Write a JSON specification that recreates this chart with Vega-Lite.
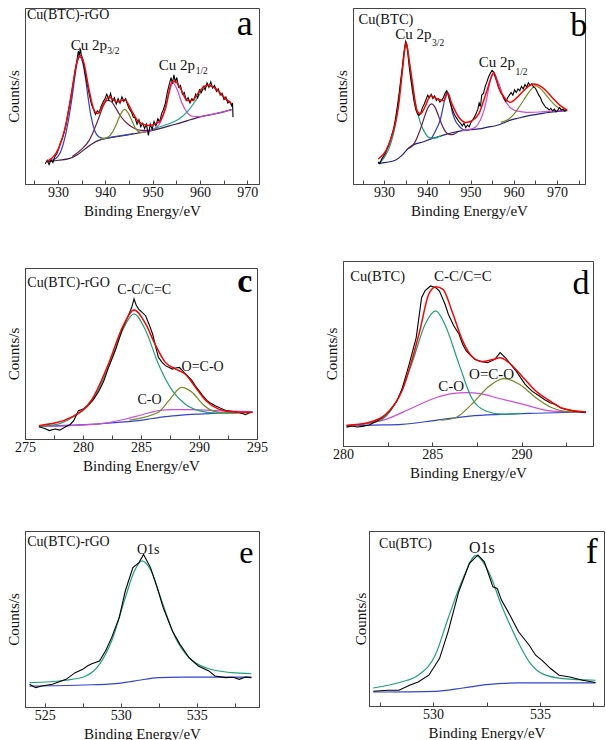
{
"$schema": "https://vega.github.io/schema/vega-lite/v6.json",
"padding": {"left": 5, "top": 5, "right": 0, "bottom": 0},
"background": "white",
"config": {
 "font": "Liberation Serif",
 "view": {"stroke": "#444", "strokeWidth": 1},
 "axis": {"grid": false, "labelFont": "Liberation Serif", "titleFont": "Liberation Serif", "labelFontSize": 14, "titleFontSize": 15, "titleFontWeight": "normal", "labelColor": "#111", "titleColor": "#111", "domainColor": "#444", "tickColor": "#444"},
 "axisX": {"tickSize": -4, "labelPadding": 5, "titlePadding": 4, "labelFlush": false, "labelOverlap": false},
 "axisY": {"labels": false, "ticks": false, "domain": true, "titlePadding": 4},
 "legend": {"disable": true}
},
"datasets": {
"a": [
{"s":"bg","x":927.7,"y":12.5},{"s":"bg","x":930,"y":13.5},{"s":"bg","x":932.3,"y":14.4},{"s":"bg","x":934,"y":16.5},{"s":"bg","x":935.8,"y":20.1},{"s":"bg","x":937.5,"y":23.3},{"s":"bg","x":938.6,"y":24.8},{"s":"bg","x":940,"y":25.8},{"s":"bg","x":942.8,"y":27.0},{"s":"bg","x":945,"y":28.0},{"s":"bg","x":947.1,"y":29.0},{"s":"bg","x":949.2,"y":30.0},{"s":"bg","x":951.3,"y":31.3},{"s":"bg","x":953.5,"y":33.0},{"s":"bg","x":956.2,"y":35.0},{"s":"bg","x":958,"y":36.5},{"s":"bg","x":959.8,"y":38.0},{"s":"bg","x":961.5,"y":39.0},{"s":"bg","x":963.3,"y":39.9},{"s":"bg","x":965,"y":41.0},{"s":"bg","x":966.7,"y":42.3},
{"s":"p1","x":927.7,"y":12.8},{"s":"p1","x":929.5,"y":14.5},{"s":"p1","x":930.5,"y":18},{"s":"p1","x":931.5,"y":27},{"s":"p1","x":932.3,"y":38},{"s":"p1","x":933,"y":50},{"s":"p1","x":933.6,"y":62},{"s":"p1","x":934.1,"y":70},{"s":"p1","x":934.6,"y":72.2},{"s":"p1","x":935.1,"y":70},{"s":"p1","x":935.7,"y":62},{"s":"p1","x":936.3,"y":50},{"s":"p1","x":937,"y":38},{"s":"p1","x":937.8,"y":30},{"s":"p1","x":938.6,"y":26.8},{"s":"p1","x":939.5,"y":25.9},{"s":"p1","x":940.5,"y":26.2},{"s":"p1","x":942,"y":27.0},{"s":"p1","x":944,"y":27.8},{"s":"p1","x":946,"y":28.6},
{"s":"s1","x":933,"y":15.6},{"s":"s1","x":935,"y":19.8},{"s":"s1","x":936.5,"y":24.5},{"s":"s1","x":937.5,"y":30},{"s":"s1","x":938.6,"y":37.5},{"s":"s1","x":939.5,"y":44},{"s":"s1","x":940.4,"y":47.5},{"s":"s1","x":941.2,"y":47},{"s":"s1","x":942,"y":44},{"s":"s1","x":943,"y":39.5},{"s":"s1","x":944,"y":36},{"s":"s1","x":945,"y":33.5},{"s":"s1","x":946,"y":31.8},{"s":"s1","x":947.5,"y":30.5},{"s":"s1","x":949,"y":30.5},{"s":"s1","x":951,"y":31.5},
{"s":"s2","x":939,"y":25.5},{"s":"s2","x":940.5,"y":26.5},{"s":"s2","x":941.5,"y":29.5},{"s":"s2","x":942.5,"y":35},{"s":"s2","x":943.3,"y":40},{"s":"s2","x":944.1,"y":42.4},{"s":"s2","x":944.9,"y":40},{"s":"s2","x":945.7,"y":35.5},{"s":"s2","x":946.5,"y":31},{"s":"s2","x":947.5,"y":29.3},{"s":"s2","x":948.5,"y":29.4},
{"s":"p2","x":948,"y":29.6},{"s":"p2","x":950,"y":30.8},{"s":"p2","x":951.3,"y":33.5},{"s":"p2","x":952.4,"y":40.5},{"s":"p2","x":953.4,"y":51},{"s":"p2","x":954.3,"y":57.4},{"s":"p2","x":955.2,"y":53.5},{"s":"p2","x":956.2,"y":46},{"s":"p2","x":957.2,"y":41},{"s":"p2","x":958.4,"y":38.5},{"s":"p2","x":960,"y":38.3},{"s":"p2","x":962,"y":39.3},{"s":"p2","x":964,"y":40.4},{"s":"p2","x":966.7,"y":42.2},
{"s":"s3","x":950,"y":31.2},{"s":"s3","x":952.7,"y":33.5},{"s":"s3","x":955.5,"y":36.8},{"s":"s3","x":957.5,"y":41.5},{"s":"s3","x":959,"y":47},{"s":"s3","x":960.5,"y":53},{"s":"s3","x":961.9,"y":56.1},{"s":"s3","x":963.3,"y":54.5},{"s":"s3","x":964.5,"y":51},{"s":"s3","x":965.5,"y":48},{"s":"s3","x":966.7,"y":45.7},
{"s":"fit","x":927.7,"y":12.9},{"s":"fit","x":930.1,"y":20.1},{"s":"fit","x":931.9,"y":37.1},{"s":"fit","x":933.0,"y":54.2},{"s":"fit","x":934.0,"y":69.3},{"s":"fit","x":934.6,"y":73.1},{"s":"fit","x":935.4,"y":69.3},{"s":"fit","x":936.5,"y":54.2},{"s":"fit","x":937.5,"y":42.8},{"s":"fit","x":938.3,"y":40},{"s":"fit","x":939.3,"y":43.8},{"s":"fit","x":940.7,"y":49.4},{"s":"fit","x":942.5,"y":46.6},{"s":"fit","x":944.1,"y":47.9},{"s":"fit","x":945.7,"y":40.9},{"s":"fit","x":947.1,"y":35.2},{"s":"fit","x":949.2,"y":33.3},{"s":"fit","x":951.3,"y":35.2},{"s":"fit","x":952.7,"y":42.8},{"s":"fit","x":954.1,"y":58},{"s":"fit","x":954.8,"y":58.3},{"s":"fit","x":955.9,"y":54.2},{"s":"fit","x":957.3,"y":47.5},{"s":"fit","x":958.4,"y":47.5},{"s":"fit","x":959.8,"y":52.3},{"s":"fit","x":961.5,"y":56.1},{"s":"fit","x":963.3,"y":54.2},{"s":"fit","x":965.4,"y":48.5},{"s":"fit","x":966.7,"y":45.6},
{"s":"raw","x":927.3,"y":11.5},{"s":"raw","x":927.7,"y":13.5},{"s":"raw","x":928.1,"y":11.0},{"s":"raw","x":928.5,"y":13.8},{"s":"raw","x":928.9,"y":12.2},{"s":"raw","x":929.3,"y":15.5},{"s":"raw","x":929.7,"y":17.0},{"s":"raw","x":930.1,"y":19.8},{"s":"raw","x":930.5,"y":23.5},{"s":"raw","x":930.9,"y":26.0},{"s":"raw","x":931.3,"y":29.5},{"s":"raw","x":931.7,"y":34.0},{"s":"raw","x":932.1,"y":40.5},{"s":"raw","x":932.5,"y":46.0},{"s":"raw","x":932.9,"y":52.5},{"s":"raw","x":933.3,"y":59.5},{"s":"raw","x":933.7,"y":66.0},{"s":"raw","x":934.0,"y":70.5},{"s":"raw","x":934.3,"y":75.5},{"s":"raw","x":934.5,"y":72.5},{"s":"raw","x":934.7,"y":77.0},{"s":"raw","x":934.9,"y":73.5},{"s":"raw","x":935.2,"y":71.0},{"s":"raw","x":935.5,"y":66.5},{"s":"raw","x":935.9,"y":60.0},{"s":"raw","x":936.3,"y":55.0},{"s":"raw","x":936.7,"y":49.5},{"s":"raw","x":937.1,"y":45.0},{"s":"raw","x":937.5,"y":42.5},{"s":"raw","x":937.9,"y":39.5},{"s":"raw","x":938.3,"y":41.5},{"s":"raw","x":938.7,"y":40.5},{"s":"raw","x":939.1,"y":44.0},{"s":"raw","x":939.5,"y":46.5},{"s":"raw","x":939.9,"y":48.5},{"s":"raw","x":940.3,"y":51.0},{"s":"raw","x":940.7,"y":48.0},{"s":"raw","x":941.1,"y":51.5},{"s":"raw","x":941.5,"y":47.0},{"s":"raw","x":941.9,"y":49.0},{"s":"raw","x":942.3,"y":45.5},{"s":"raw","x":942.7,"y":48.5},{"s":"raw","x":943.1,"y":46.0},{"s":"raw","x":943.5,"y":49.5},{"s":"raw","x":943.9,"y":47.0},{"s":"raw","x":944.3,"y":48.5},{"s":"raw","x":944.7,"y":45.0},{"s":"raw","x":945.1,"y":42.5},{"s":"raw","x":945.5,"y":41.0},{"s":"raw","x":945.9,"y":38.0},{"s":"raw","x":946.3,"y":37.5},{"s":"raw","x":946.7,"y":34.0},{"s":"raw","x":947.1,"y":36.5},{"s":"raw","x":947.5,"y":32.5},{"s":"raw","x":947.9,"y":34.5},{"s":"raw","x":948.3,"y":31.5},{"s":"raw","x":948.7,"y":34.0},{"s":"raw","x":949.1,"y":27.6},{"s":"raw","x":949.5,"y":34.0},{"s":"raw","x":949.9,"y":31.0},{"s":"raw","x":950.3,"y":35.5},{"s":"raw","x":950.7,"y":33.0},{"s":"raw","x":951.1,"y":37.0},{"s":"raw","x":951.5,"y":35.5},{"s":"raw","x":951.9,"y":40.0},{"s":"raw","x":952.3,"y":42.5},{"s":"raw","x":952.7,"y":46.0},{"s":"raw","x":953.1,"y":52.0},{"s":"raw","x":953.5,"y":56.5},{"s":"raw","x":953.9,"y":60.5},{"s":"raw","x":954.2,"y":57.0},{"s":"raw","x":954.5,"y":62.0},{"s":"raw","x":954.8,"y":58.0},{"s":"raw","x":955.1,"y":60.5},{"s":"raw","x":955.5,"y":55.0},{"s":"raw","x":955.9,"y":56.0},{"s":"raw","x":956.3,"y":51.0},{"s":"raw","x":956.7,"y":52.0},{"s":"raw","x":957.1,"y":47.5},{"s":"raw","x":957.5,"y":49.0},{"s":"raw","x":957.9,"y":46.0},{"s":"raw","x":958.3,"y":48.5},{"s":"raw","x":958.7,"y":47.5},{"s":"raw","x":959.1,"y":51.0},{"s":"raw","x":959.5,"y":49.0},{"s":"raw","x":959.9,"y":53.5},{"s":"raw","x":960.3,"y":52.0},{"s":"raw","x":960.7,"y":55.5},{"s":"raw","x":961.1,"y":53.5},{"s":"raw","x":961.5,"y":57.5},{"s":"raw","x":961.9,"y":55.0},{"s":"raw","x":962.3,"y":58.0},{"s":"raw","x":962.7,"y":54.5},{"s":"raw","x":963.1,"y":56.0},{"s":"raw","x":963.5,"y":52.5},{"s":"raw","x":963.9,"y":54.0},{"s":"raw","x":964.3,"y":50.5},{"s":"raw","x":964.7,"y":51.5},{"s":"raw","x":965.1,"y":48.0},{"s":"raw","x":965.5,"y":49.5},{"s":"raw","x":965.9,"y":46.0},{"s":"raw","x":966.3,"y":47.0},{"s":"raw","x":966.7,"y":44.5},{"s":"raw","x":966.9,"y":46.0},{"s":"raw","x":967.0,"y":38.0}
],
"b": [
{"s":"bg","x":928.6,"y":11.7},{"s":"bg","x":930.5,"y":12.3},{"s":"bg","x":932.6,"y":13.5},{"s":"bg","x":934,"y":16},{"s":"bg","x":935.7,"y":20.5},{"s":"bg","x":937.3,"y":22.8},{"s":"bg","x":938.8,"y":23.7},{"s":"bg","x":941,"y":25.8},{"s":"bg","x":943.4,"y":27.5},{"s":"bg","x":945.7,"y":29.1},{"s":"bg","x":948.1,"y":30.3},{"s":"bg","x":950,"y":30.9},{"s":"bg","x":951.9,"y":31.3},{"s":"bg","x":954,"y":32.3},{"s":"bg","x":955.8,"y":33.1},{"s":"bg","x":957.5,"y":34.5},{"s":"bg","x":958.9,"y":36},{"s":"bg","x":961.2,"y":37.5},{"s":"bg","x":963.5,"y":38.8},{"s":"bg","x":966,"y":39.8},{"s":"bg","x":968.1,"y":40.7},{"s":"bg","x":970.2,"y":41.3},{"s":"bg","x":972.4,"y":41.7},
{"s":"p1","x":928.6,"y":12},{"s":"p1","x":929.5,"y":13.3},{"s":"p1","x":930.5,"y":17},{"s":"p1","x":931.5,"y":22.7},{"s":"p1","x":932.3,"y":30},{"s":"p1","x":933,"y":39.8},{"s":"p1","x":933.6,"y":52},{"s":"p1","x":934.2,"y":64.4},{"s":"p1","x":934.7,"y":75},{"s":"p1","x":935.1,"y":79.9},{"s":"p1","x":935.5,"y":76},{"s":"p1","x":936.1,"y":64.4},{"s":"p1","x":936.7,"y":53},{"s":"p1","x":937.3,"y":45.5},{"s":"p1","x":938,"y":38},{"s":"p1","x":938.8,"y":32.2},{"s":"p1","x":939.6,"y":28.5},{"s":"p1","x":940.3,"y":26.5},{"s":"p1","x":941.5,"y":26},{"s":"p1","x":943,"y":27.2},
{"s":"s1","x":935.5,"y":20},{"s":"s1","x":936.5,"y":21.5},{"s":"s1","x":937.3,"y":24.5},{"s":"s1","x":938,"y":28.5},{"s":"s1","x":938.8,"y":34.1},{"s":"s1","x":939.6,"y":40},{"s":"s1","x":940.3,"y":44},{"s":"s1","x":941,"y":45.5},{"s":"s1","x":941.7,"y":44},{"s":"s1","x":942.7,"y":38},{"s":"s1","x":943.5,"y":33},{"s":"s1","x":944.2,"y":29.8},{"s":"s1","x":945,"y":28.3},{"s":"s1","x":945.7,"y":28},{"s":"s1","x":947,"y":29.5},
{"s":"s2","x":941,"y":26},{"s":"s2","x":942.3,"y":32.2},{"s":"s2","x":943,"y":36.5},{"s":"s2","x":943.6,"y":43},{"s":"s2","x":944.2,"y":50},{"s":"s2","x":944.7,"y":52.1},{"s":"s2","x":945.2,"y":49},{"s":"s2","x":945.7,"y":41.7},{"s":"s2","x":946.5,"y":36},{"s":"s2","x":947.3,"y":33.1},{"s":"s2","x":948.8,"y":30.5},{"s":"s2","x":950,"y":31},
{"s":"p2","x":948,"y":30.5},{"s":"p2","x":950,"y":31.2},{"s":"p2","x":951.1,"y":32.2},{"s":"p2","x":952.2,"y":36},{"s":"p2","x":953.1,"y":41.7},{"s":"p2","x":953.8,"y":49},{"s":"p2","x":954.5,"y":58},{"s":"p2","x":955.5,"y":62.5},{"s":"p2","x":956.2,"y":59},{"s":"p2","x":956.9,"y":54.9},{"s":"p2","x":957.6,"y":49},{"s":"p2","x":958.5,"y":45.5},{"s":"p2","x":959.4,"y":43},{"s":"p2","x":960.4,"y":41.7},{"s":"p2","x":962,"y":41},{"s":"p2","x":963.5,"y":40.7},{"s":"p2","x":966,"y":40.9},{"s":"p2","x":968.1,"y":41.3},{"s":"p2","x":972.4,"y":41.8},
{"s":"s3","x":957,"y":35},{"s":"s3","x":958.9,"y":36.9},{"s":"s3","x":960,"y":39.5},{"s":"s3","x":961.2,"y":43.6},{"s":"s3","x":962.4,"y":48},{"s":"s3","x":963.5,"y":52.1},{"s":"s3","x":964.3,"y":54.5},{"s":"s3","x":965,"y":55.9},{"s":"s3","x":965.8,"y":55},{"s":"s3","x":966.5,"y":53.5},{"s":"s3","x":967.3,"y":51.1},{"s":"s3","x":968.5,"y":47.5},{"s":"s3","x":969.7,"y":44.5},{"s":"s3","x":970.8,"y":42.8},{"s":"s3","x":972,"y":42},
{"s":"fit","x":928.6,"y":14.2},{"s":"fit","x":931.1,"y":22.7},{"s":"fit","x":933.4,"y":45.5},{"s":"fit","x":934.3,"y":66},{"s":"fit","x":935.1,"y":80.5},{"s":"fit","x":935.8,"y":70},{"s":"fit","x":936.5,"y":58.7},{"s":"fit","x":937.6,"y":41.7},{"s":"fit","x":938.4,"y":39.8},{"s":"fit","x":939.6,"y":44.5},{"s":"fit","x":940.7,"y":50.2},{"s":"fit","x":942.3,"y":48.3},{"s":"fit","x":943.8,"y":47.3},{"s":"fit","x":944.7,"y":51.5},{"s":"fit","x":945.7,"y":45.5},{"s":"fit","x":947.3,"y":37.9},{"s":"fit","x":948.8,"y":35},{"s":"fit","x":950.4,"y":36},{"s":"fit","x":951.9,"y":39.8},{"s":"fit","x":953.8,"y":53},{"s":"fit","x":955.4,"y":63.4},{"s":"fit","x":956.5,"y":54.9},{"s":"fit","x":958.1,"y":48.3},{"s":"fit","x":959.2,"y":46.4},{"s":"fit","x":960.8,"y":49.2},{"s":"fit","x":962.7,"y":54},{"s":"fit","x":964.6,"y":56.8},{"s":"fit","x":966.6,"y":54.9},{"s":"fit","x":968.9,"y":49.2},{"s":"fit","x":970.8,"y":44.5},{"s":"fit","x":972.4,"y":42},
{"s":"raw","x":928.6,"y":12.5},{"s":"raw","x":929.0,"y":11.5},{"s":"raw","x":929.4,"y":14.0},{"s":"raw","x":929.8,"y":15.5},{"s":"raw","x":930.2,"y":17.0},{"s":"raw","x":930.6,"y":19.5},{"s":"raw","x":931.0,"y":21.5},{"s":"raw","x":931.4,"y":24.5},{"s":"raw","x":931.8,"y":28.0},{"s":"raw","x":932.2,"y":31.5},{"s":"raw","x":932.6,"y":36.5},{"s":"raw","x":933.0,"y":43.0},{"s":"raw","x":933.4,"y":50.0},{"s":"raw","x":933.8,"y":58.0},{"s":"raw","x":934.2,"y":66.0},{"s":"raw","x":934.5,"y":73.0},{"s":"raw","x":934.8,"y":78.5},{"s":"raw","x":935.0,"y":81.0},{"s":"raw","x":935.2,"y":79.5},{"s":"raw","x":935.5,"y":74.0},{"s":"raw","x":935.8,"y":67.0},{"s":"raw","x":936.1,"y":61.0},{"s":"raw","x":936.5,"y":54.0},{"s":"raw","x":936.9,"y":47.5},{"s":"raw","x":937.3,"y":42.5},{"s":"raw","x":937.7,"y":40.0},{"s":"raw","x":938.1,"y":39.0},{"s":"raw","x":938.5,"y":40.5},{"s":"raw","x":938.9,"y":43.5},{"s":"raw","x":939.3,"y":45.5},{"s":"raw","x":939.7,"y":48.0},{"s":"raw","x":940.1,"y":50.5},{"s":"raw","x":940.5,"y":49.0},{"s":"raw","x":940.9,"y":51.0},{"s":"raw","x":941.3,"y":48.5},{"s":"raw","x":941.7,"y":50.0},{"s":"raw","x":942.1,"y":47.5},{"s":"raw","x":942.5,"y":48.5},{"s":"raw","x":942.9,"y":46.5},{"s":"raw","x":943.3,"y":47.5},{"s":"raw","x":943.7,"y":49.0},{"s":"raw","x":944.1,"y":51.5},{"s":"raw","x":944.5,"y":53.0},{"s":"raw","x":944.9,"y":50.0},{"s":"raw","x":945.3,"y":46.0},{"s":"raw","x":945.7,"y":43.0},{"s":"raw","x":946.1,"y":40.5},{"s":"raw","x":946.5,"y":38.5},{"s":"raw","x":946.9,"y":37.0},{"s":"raw","x":947.3,"y":35.5},{"s":"raw","x":947.7,"y":34.5},{"s":"raw","x":948.1,"y":33.0},{"s":"raw","x":948.5,"y":34.5},{"s":"raw","x":948.9,"y":32.0},{"s":"raw","x":949.3,"y":33.5},{"s":"raw","x":949.7,"y":32.5},{"s":"raw","x":950.1,"y":35.0},{"s":"raw","x":950.5,"y":36.5},{"s":"raw","x":950.9,"y":38.0},{"s":"raw","x":951.3,"y":40.0},{"s":"raw","x":951.7,"y":42.5},{"s":"raw","x":952.0,"y":46.0},{"s":"raw","x":952.3,"y":44.0},{"s":"raw","x":952.6,"y":50.5},{"s":"raw","x":953.0,"y":51.5},{"s":"raw","x":953.4,"y":55.5},{"s":"raw","x":953.8,"y":58.0},{"s":"raw","x":954.2,"y":61.0},{"s":"raw","x":954.6,"y":63.0},{"s":"raw","x":955.0,"y":64.5},{"s":"raw","x":955.4,"y":63.5},{"s":"raw","x":955.8,"y":60.0},{"s":"raw","x":956.2,"y":57.5},{"s":"raw","x":956.6,"y":54.5},{"s":"raw","x":957.0,"y":52.0},{"s":"raw","x":957.4,"y":50.5},{"s":"raw","x":957.8,"y":48.5},{"s":"raw","x":958.2,"y":47.0},{"s":"raw","x":958.6,"y":49.0},{"s":"raw","x":959.0,"y":50.5},{"s":"raw","x":959.4,"y":52.0},{"s":"raw","x":959.8,"y":50.5},{"s":"raw","x":960.2,"y":53.5},{"s":"raw","x":960.6,"y":52.0},{"s":"raw","x":961.0,"y":54.0},{"s":"raw","x":961.4,"y":53.0},{"s":"raw","x":961.8,"y":55.5},{"s":"raw","x":962.2,"y":54.0},{"s":"raw","x":962.6,"y":56.5},{"s":"raw","x":963.0,"y":55.0},{"s":"raw","x":963.4,"y":57.5},{"s":"raw","x":963.8,"y":56.0},{"s":"raw","x":964.2,"y":57.0},{"s":"raw","x":964.6,"y":55.0},{"s":"raw","x":965.0,"y":54.5},{"s":"raw","x":965.4,"y":52.5},{"s":"raw","x":965.8,"y":50.5},{"s":"raw","x":966.2,"y":49.0},{"s":"raw","x":966.6,"y":46.5},{"s":"raw","x":967.0,"y":45.0},{"s":"raw","x":967.4,"y":43.5},{"s":"raw","x":967.8,"y":43.0},{"s":"raw","x":968.2,"y":42.0},{"s":"raw","x":968.6,"y":43.0},{"s":"raw","x":969.0,"y":41.5},{"s":"raw","x":969.4,"y":42.5},{"s":"raw","x":969.8,"y":41.0},{"s":"raw","x":970.2,"y":42.0},{"s":"raw","x":970.6,"y":43.5},{"s":"raw","x":971.0,"y":42.0},{"s":"raw","x":971.4,"y":42.5},{"s":"raw","x":971.8,"y":41.5},{"s":"raw","x":972.2,"y":42.0}
],
"c": [
{"s":"bg","x":276.2,"y":7.2},{"s":"bg","x":278.5,"y":8.0},{"s":"bg","x":281.4,"y":8.8},{"s":"bg","x":283,"y":9.7},{"s":"bg","x":284.8,"y":10.7},{"s":"bg","x":286,"y":12},{"s":"bg","x":287.1,"y":13.1},{"s":"bg","x":288.5,"y":14},{"s":"bg","x":290,"y":14.6},{"s":"bg","x":292,"y":15.2},{"s":"bg","x":294.6,"y":15.6},
{"s":"co","x":276.2,"y":7.2},{"s":"co","x":281.4,"y":8.8},{"s":"co","x":283.7,"y":11.7},{"s":"co","x":285.1,"y":14.2},{"s":"co","x":286.5,"y":16.6},{"s":"co","x":287.7,"y":17.2},{"s":"co","x":289.4,"y":17.2},{"s":"co","x":291.4,"y":16.6},{"s":"co","x":294.6,"y":16.0},
{"s":"cc","x":276.2,"y":7.3},{"s":"cc","x":278,"y":9},{"s":"cc","x":279.1,"y":12.7},{"s":"cc","x":280.8,"y":22.4},{"s":"cc","x":282.2,"y":41.9},{"s":"cc","x":283.4,"y":63.4},{"s":"cc","x":284.4,"y":73.1},{"s":"cc","x":285.4,"y":63.4},{"s":"cc","x":286.5,"y":43.9},{"s":"cc","x":287.7,"y":28.3},{"s":"cc","x":288.8,"y":20.5},{"s":"cc","x":290,"y":16.6},{"s":"cc","x":291.4,"y":15.2},{"s":"cc","x":294.6,"y":15.6},
{"s":"oco","x":284,"y":11},{"s":"oco","x":286.5,"y":15.6},{"s":"oco","x":287.4,"y":22.4},{"s":"oco","x":288.5,"y":30.2},{"s":"oco","x":289.4,"y":27.3},{"s":"oco","x":290.3,"y":20.5},{"s":"oco","x":291.1,"y":16.6},{"s":"oco","x":292.3,"y":15.2},{"s":"oco","x":294,"y":15.5},
{"s":"fit","x":276.2,"y":7.8},{"s":"fit","x":279.1,"y":13.1},{"s":"fit","x":280.8,"y":23.4},{"s":"fit","x":282.2,"y":43.9},{"s":"fit","x":283.4,"y":65.3},{"s":"fit","x":284.4,"y":75.4},{"s":"fit","x":285.4,"y":67.3},{"s":"fit","x":286.2,"y":55.6},{"s":"fit","x":287.1,"y":44.8},{"s":"fit","x":288,"y":40.9},{"s":"fit","x":288.8,"y":38},{"s":"fit","x":289.7,"y":30.2},{"s":"fit","x":290.6,"y":22.4},{"s":"fit","x":291.7,"y":17.5},{"s":"fit","x":292.8,"y":16},{"s":"fit","x":294.6,"y":15.6},
{"s":"raw","x":276.2,"y":7.2},{"s":"raw","x":276.7,"y":6.2},{"s":"raw","x":277.1,"y":4.9},{"s":"raw","x":277.6,"y":5.8},{"s":"raw","x":278,"y":5.2},{"s":"raw","x":278.5,"y":7.2},{"s":"raw","x":278.9,"y":8.5},{"s":"raw","x":279.2,"y":10.7},{"s":"raw","x":279.6,"y":16.6},{"s":"raw","x":280,"y":17.5},{"s":"raw","x":280.4,"y":19.5},{"s":"raw","x":280.9,"y":23},{"s":"raw","x":281.4,"y":28.3},{"s":"raw","x":281.8,"y":34},{"s":"raw","x":282.2,"y":41.9},{"s":"raw","x":282.8,"y":52},{"s":"raw","x":283.4,"y":64.5},{"s":"raw","x":283.9,"y":72},{"s":"raw","x":284.2,"y":77},{"s":"raw","x":284.4,"y":81.9},{"s":"raw","x":284.6,"y":78},{"s":"raw","x":284.8,"y":76},{"s":"raw","x":285.1,"y":74},{"s":"raw","x":285.4,"y":72.1},{"s":"raw","x":285.7,"y":67},{"s":"raw","x":286,"y":61.4},{"s":"raw","x":286.3,"y":53},{"s":"raw","x":286.5,"y":47.8},{"s":"raw","x":286.8,"y":45},{"s":"raw","x":287.1,"y":42.9},{"s":"raw","x":287.4,"y":42},{"s":"raw","x":287.7,"y":40.9},{"s":"raw","x":288,"y":41.5},{"s":"raw","x":288.3,"y":41.9},{"s":"raw","x":288.5,"y":40.5},{"s":"raw","x":288.7,"y":39},{"s":"raw","x":289,"y":37},{"s":"raw","x":289.4,"y":34.1},{"s":"raw","x":289.7,"y":31},{"s":"raw","x":290,"y":28.3},{"s":"raw","x":290.3,"y":25.5},{"s":"raw","x":290.7,"y":22.4},{"s":"raw","x":291,"y":21},{"s":"raw","x":291.4,"y":19.5},{"s":"raw","x":291.8,"y":18.2},{"s":"raw","x":292.3,"y":16.6},{"s":"raw","x":292.8,"y":16.2},{"s":"raw","x":293.4,"y":15.6},{"s":"raw","x":293.7,"y":15},{"s":"raw","x":294,"y":14.2},{"s":"raw","x":294.3,"y":15.2},{"s":"raw","x":294.6,"y":15.6}
],
"d": [
{"s":"bg","x":280.2,"y":10.8},{"s":"bg","x":281.7,"y":11.3},{"s":"bg","x":283.3,"y":11.7},{"s":"bg","x":285.2,"y":13.9},{"s":"bg","x":287.1,"y":16.2},{"s":"bg","x":288.9,"y":17.1},{"s":"bg","x":290.8,"y":17.7},{"s":"bg","x":293.6,"y":18.4},
{"s":"co","x":280.2,"y":10.8},{"s":"co","x":282.4,"y":14.4},{"s":"co","x":283.9,"y":20.7},{"s":"co","x":285.2,"y":26.1},{"s":"co","x":286.1,"y":28.3},{"s":"co","x":286.9,"y":28.8},{"s":"co","x":287.8,"y":28},{"s":"co","x":288.6,"y":26.1},{"s":"co","x":290.1,"y":22.5},{"s":"co","x":291.7,"y":18.9},{"s":"co","x":293.6,"y":18.4},
{"s":"cc","x":280.2,"y":10.9},{"s":"cc","x":282,"y":13.5},{"s":"cc","x":282.9,"y":22.5},{"s":"cc","x":283.9,"y":45.9},{"s":"cc","x":284.6,"y":65.8},{"s":"cc","x":285.2,"y":73},{"s":"cc","x":285.7,"y":65.8},{"s":"cc","x":286.5,"y":44.1},{"s":"cc","x":287.2,"y":26.1},{"s":"cc","x":288,"y":18.9},{"s":"cc","x":288.9,"y":17.2},{"s":"cc","x":290,"y":17.6},
{"s":"oco","x":285.5,"y":14},{"s":"oco","x":286.3,"y":15.3},{"s":"oco","x":287.2,"y":22.5},{"s":"oco","x":288.2,"y":32.4},{"s":"oco","x":289,"y":36.4},{"s":"oco","x":289.9,"y":33.3},{"s":"oco","x":290.8,"y":26.1},{"s":"oco","x":291.7,"y":20.7},{"s":"oco","x":292.7,"y":18.6},{"s":"oco","x":293.6,"y":18.4},
{"s":"fit","x":280.2,"y":11.2},{"s":"fit","x":281.4,"y":12.6},{"s":"fit","x":282.4,"y":17.1},{"s":"fit","x":283.3,"y":29.7},{"s":"fit","x":284.3,"y":62.2},{"s":"fit","x":284.8,"y":82},{"s":"fit","x":285.2,"y":86.1},{"s":"fit","x":285.6,"y":84.7},{"s":"fit","x":286.1,"y":73},{"s":"fit","x":286.7,"y":56.8},{"s":"fit","x":287.2,"y":48.6},{"s":"fit","x":287.8,"y":45.6},{"s":"fit","x":288.4,"y":46.8},{"s":"fit","x":288.8,"y":47.7},{"s":"fit","x":289.3,"y":45},{"s":"fit","x":290.1,"y":36.9},{"s":"fit","x":290.8,"y":29.7},{"s":"fit","x":291.6,"y":24.3},{"s":"fit","x":292.3,"y":20.4},{"s":"fit","x":293.6,"y":18.4},
{"s":"raw","x":280.2,"y":10.2},{"s":"raw","x":280.5,"y":10.8},{"s":"raw","x":280.8,"y":10.3},{"s":"raw","x":281.1,"y":10.6},{"s":"raw","x":281.5,"y":11.5},{"s":"raw","x":281.9,"y":13.5},{"s":"raw","x":282.2,"y":15.3},{"s":"raw","x":282.6,"y":18.9},{"s":"raw","x":283,"y":24},{"s":"raw","x":283.3,"y":30.6},{"s":"raw","x":283.7,"y":44},{"s":"raw","x":284.1,"y":58.6},{"s":"raw","x":284.4,"y":80.2},{"s":"raw","x":284.6,"y":84},{"s":"raw","x":284.9,"y":86.5},{"s":"raw","x":285.2,"y":85.5},{"s":"raw","x":285.4,"y":83.8},{"s":"raw","x":285.7,"y":77},{"s":"raw","x":285.9,"y":71.2},{"s":"raw","x":286.2,"y":65},{"s":"raw","x":286.5,"y":60.4},{"s":"raw","x":286.7,"y":55},{"s":"raw","x":286.9,"y":51.4},{"s":"raw","x":287.2,"y":48.5},{"s":"raw","x":287.4,"y":46.8},{"s":"raw","x":287.8,"y":45.5},{"s":"raw","x":288.1,"y":45},{"s":"raw","x":288.5,"y":46.8},{"s":"raw","x":288.8,"y":50.5},{"s":"raw","x":289.1,"y":47.7},{"s":"raw","x":289.4,"y":44},{"s":"raw","x":289.7,"y":40.5},{"s":"raw","x":290.2,"y":33.3},{"s":"raw","x":290.6,"y":29.5},{"s":"raw","x":291,"y":27},{"s":"raw","x":291.3,"y":25},{"s":"raw","x":291.6,"y":23.4},{"s":"raw","x":291.9,"y":22.5},{"s":"raw","x":292.2,"y":20.5},{"s":"raw","x":292.5,"y":19.8},{"s":"raw","x":293,"y":18.8},{"s":"raw","x":293.6,"y":18}
],
"e": [
{"s":"bg","x":524,"y":11.9},{"s":"bg","x":527.5,"y":12.5},{"s":"bg","x":529.7,"y":13.3},{"s":"bg","x":530.5,"y":14.2},{"s":"bg","x":531.2,"y":15.2},{"s":"bg","x":532.5,"y":16.7},{"s":"bg","x":534,"y":17},{"s":"bg","x":538.6,"y":17},
{"s":"o1s","x":524,"y":13.8},{"s":"o1s","x":526.4,"y":15.2},{"s":"o1s","x":527.7,"y":17.6},{"s":"o1s","x":528.6,"y":24.2},{"s":"o1s","x":529.4,"y":37.5},{"s":"o1s","x":530.3,"y":62.1},{"s":"o1s","x":530.9,"y":77.3},{"s":"o1s","x":531.4,"y":83},{"s":"o1s","x":532,"y":77.3},{"s":"o1s","x":532.7,"y":60.2},{"s":"o1s","x":533.6,"y":39.4},{"s":"o1s","x":534.5,"y":28},{"s":"o1s","x":535.6,"y":22.3},{"s":"o1s","x":537.3,"y":19.5},{"s":"o1s","x":538.6,"y":18.9},
{"s":"raw","x":524,"y":12.9},{"s":"raw","x":524.4,"y":11},{"s":"raw","x":524.8,"y":11.9},{"s":"raw","x":525.5,"y":12.9},{"s":"raw","x":526.4,"y":15.7},{"s":"raw","x":527,"y":19.5},{"s":"raw","x":527.5,"y":21.4},{"s":"raw","x":527.8,"y":23.3},{"s":"raw","x":528.1,"y":24.6},{"s":"raw","x":528.6,"y":26.1},{"s":"raw","x":529,"y":31.8},{"s":"raw","x":529.4,"y":39.4},{"s":"raw","x":529.9,"y":50.8},{"s":"raw","x":530.3,"y":65.9},{"s":"raw","x":530.8,"y":79.2},{"s":"raw","x":531.2,"y":82},{"s":"raw","x":531.5,"y":86.7},{"s":"raw","x":531.96,"y":79.2},{"s":"raw","x":532.4,"y":67.8},{"s":"raw","x":532.8,"y":56.4},{"s":"raw","x":533.4,"y":43.2},{"s":"raw","x":533.9,"y":35.6},{"s":"raw","x":534.5,"y":28},{"s":"raw","x":535.1,"y":23.3},{"s":"raw","x":535.8,"y":20.5},{"s":"raw","x":536.2,"y":17.6},{"s":"raw","x":536.9,"y":16.7},{"s":"raw","x":537.4,"y":16.9},{"s":"raw","x":537.8,"y":15.7},{"s":"raw","x":538.2,"y":17},{"s":"raw","x":538.6,"y":16.7}
],
"f": [
{"s":"bg","x":527.2,"y":8},{"s":"bg","x":530.1,"y":8.4},{"s":"bg","x":531.4,"y":10.3},{"s":"bg","x":532.5,"y":12.2},{"s":"bg","x":534,"y":13.2},{"s":"bg","x":537.6,"y":13.2},
{"s":"o1s","x":527.2,"y":10.3},{"s":"o1s","x":528.5,"y":13.7},{"s":"o1s","x":529.3,"y":17.6},{"s":"o1s","x":530.1,"y":29},{"s":"o1s","x":530.7,"y":50},{"s":"o1s","x":531.4,"y":72.9},{"s":"o1s","x":532,"y":85.9},{"s":"o1s","x":532.6,"y":76.7},{"s":"o1s","x":533.2,"y":57.6},{"s":"o1s","x":533.9,"y":38.5},{"s":"o1s","x":534.5,"y":25.2},{"s":"o1s","x":535.1,"y":18.5},{"s":"o1s","x":536.1,"y":15.6},{"s":"o1s","x":537.6,"y":14.7},
{"s":"raw","x":527.2,"y":8.4},{"s":"raw","x":527.9,"y":9},{"s":"raw","x":528.4,"y":9},{"s":"raw","x":528.9,"y":11.8},{"s":"raw","x":529.3,"y":13.7},{"s":"raw","x":529.8,"y":17.6},{"s":"raw","x":530.3,"y":27.1},{"s":"raw","x":530.7,"y":42.4},{"s":"raw","x":531.2,"y":65.3},{"s":"raw","x":531.7,"y":81.5},{"s":"raw","x":532.1,"y":86.3},{"s":"raw","x":532.4,"y":82.4},{"s":"raw","x":532.8,"y":68.1},{"s":"raw","x":533,"y":67.2},{"s":"raw","x":533.2,"y":60.5},{"s":"raw","x":533.6,"y":51.9},{"s":"raw","x":534,"y":42.4},{"s":"raw","x":534.5,"y":34.7},{"s":"raw","x":534.8,"y":29},{"s":"raw","x":535.1,"y":26.1},{"s":"raw","x":535.5,"y":21.4},{"s":"raw","x":535.9,"y":17.6},{"s":"raw","x":536.4,"y":16.6},{"s":"raw","x":537,"y":14.7},{"s":"raw","x":537.6,"y":13.4}
]
},
"spacing": 41,
"resolve": {"scale": {"color": "independent"}},
"vconcat": [
{"hconcat": [
 {"width": 234, "height": 176, "data": {"name": "a"},
  "encoding": {
   "x": {"field": "x", "type": "quantitative", "scale": {"domain": [923, 972.5], "nice": false, "zero": false}, "axis": {"title": "Binding Energy/eV", "values": [925,930,935,940,945,950,955,960,965,970], "labelExpr": "datum.value % 10 === 0 ? datum.label : ''"}},
   "y": {"field": "y", "type": "quantitative", "scale": {"domain": [0, 100], "nice": false}, "axis": {"title": "Counts/s"}}},
  "layer": [
   {"transform": [{"filter": "datum.s !== 'raw' && datum.s !== 'fit'"}], "mark": {"type": "line", "interpolate": "monotone", "strokeWidth": 1.2}, "encoding": {"color": {"field": "s", "type": "nominal", "legend": null, "scale": {"domain": ["bg","p1","s1","s2","p2","s3"], "range": ["#3D1A4F","#2B3FC4","#6B1E3E","#6F8C1F","#CC44D6","#1FA58A"]}}}},
   {"transform": [{"filter": "datum.s === 'raw'"}], "mark": {"type": "line", "color": "#000000", "strokeWidth": 1.1}, "encoding": {}},
   {"transform": [{"filter": "datum.s === 'fit'"}], "mark": {"type": "line", "interpolate": "monotone", "color": "#FF0000", "strokeWidth": 1.5}, "encoding": {}},
   {"data": {"values": [{"x": 923.4, "y": 93.7, "t": "Cu(BTC)-rGO"}]}, "mark": {"type": "text", "align": "left", "baseline": "alphabetic", "fontSize": 14, "color": "#111"}, "encoding": {"text": {"field": "t"}}},
   {"data": {"values": [{"x": 932.7, "y": 76.1, "t": "Cu 2p"}, {"x": 951.3, "y": 64.8, "t": "Cu 2p"}]}, "mark": {"type": "text", "align": "left", "baseline": "alphabetic", "fontSize": 15, "color": "#111"}, "encoding": {"text": {"field": "t"}}},
   {"data": {"values": [{"x": 940.4, "y": 73.6, "t": "3/2"}, {"x": 959.1, "y": 62.5, "t": "1/2"}]}, "mark": {"type": "text", "align": "left", "baseline": "alphabetic", "fontSize": 9.5, "color": "#111"}, "encoding": {"text": {"field": "t"}}},
   {"data": {"values": [{"x": 971.2, "y": 84.7, "t": "a"}]}, "mark": {"type": "text", "align": "right", "baseline": "alphabetic", "fontSize": 36, "color": "#000"}, "encoding": {"text": {"field": "t"}}}
  ]},
 {"width": 232, "height": 176, "data": {"name": "b"},
  "encoding": {
   "x": {"field": "x", "type": "quantitative", "scale": {"domain": [922.8, 976.5], "nice": false, "zero": false}, "axis": {"title": "Binding Energy/eV", "values": [925,930,935,940,945,950,955,960,965,970,975], "labelExpr": "datum.value % 10 === 0 ? datum.label : ''"}},
   "y": {"field": "y", "type": "quantitative", "scale": {"domain": [0, 100], "nice": false}, "axis": {"title": "Counts/s"}}},
  "layer": [
   {"transform": [{"filter": "datum.s !== 'raw' && datum.s !== 'fit'"}], "mark": {"type": "line", "interpolate": "monotone", "strokeWidth": 1.2}, "encoding": {"color": {"field": "s", "type": "nominal", "legend": null, "scale": {"domain": ["bg","p1","s1","s2","p2","s3"], "range": ["#22237A","#1A9E7A","#6B1E3E","#2B3FC4","#D04BD8","#7A8A1F"]}}}},
   {"transform": [{"filter": "datum.s === 'raw'"}], "mark": {"type": "line", "color": "#000000", "strokeWidth": 1.1}, "encoding": {}},
   {"transform": [{"filter": "datum.s === 'fit'"}], "mark": {"type": "line", "interpolate": "monotone", "color": "#FF0000", "strokeWidth": 1.5}, "encoding": {}},
   {"data": {"values": [{"x": 924.1, "y": 90.9, "t": "Cu(BTC)"}]}, "mark": {"type": "text", "align": "left", "baseline": "alphabetic", "fontSize": 14.5, "color": "#111"}, "encoding": {"text": {"field": "t"}}},
   {"data": {"values": [{"x": 932.6, "y": 82.4, "t": "Cu 2p"}, {"x": 951.9, "y": 66.3, "t": "Cu 2p"}]}, "mark": {"type": "text", "align": "left", "baseline": "alphabetic", "fontSize": 15, "color": "#111"}, "encoding": {"text": {"field": "t"}}},
   {"data": {"values": [{"x": 941.1, "y": 78.6, "t": "3/2"}, {"x": 960.4, "y": 62.2, "t": "1/2"}]}, "mark": {"type": "text", "align": "left", "baseline": "alphabetic", "fontSize": 9.5, "color": "#111"}, "encoding": {"text": {"field": "t"}}},
   {"data": {"values": [{"x": 977, "y": 84.3, "t": "b"}]}, "mark": {"type": "text", "align": "right", "baseline": "alphabetic", "fontSize": 34, "color": "#000"}, "encoding": {"text": {"field": "t"}}}
  ]}
 ], "spacing": 94, "bounds": "flush", "resolve": {"scale": {"color": "independent"}}},
{"vconcat": [
 {"hconcat": [
  {"width": 232, "height": 171, "data": {"name": "c"},
   "encoding": {
    "x": {"field": "x", "type": "quantitative", "scale": {"domain": [275, 295], "nice": false, "zero": false}, "axis": {"title": "Binding Energy/eV", "values": [275,277.5,280,282.5,285,287.5,290,292.5,295], "labelExpr": "datum.value % 5 === 0 ? datum.label : ''"}},
    "y": {"field": "y", "type": "quantitative", "scale": {"domain": [0, 100], "nice": false}, "axis": {"title": "Counts/s"}}},
   "layer": [
    {"transform": [{"filter": "datum.s !== 'raw' && datum.s !== 'fit'"}], "mark": {"type": "line", "interpolate": "monotone", "strokeWidth": 1.2}, "encoding": {"color": {"field": "s", "type": "nominal", "legend": null, "scale": {"domain": ["bg","co","cc","oco"], "range": ["#3344CC","#D04BD8","#1FA07A","#6F8C1F"]}}}},
    {"transform": [{"filter": "datum.s === 'raw'"}], "mark": {"type": "line", "color": "#000000", "strokeWidth": 1.1}, "encoding": {}},
    {"transform": [{"filter": "datum.s === 'fit'"}], "mark": {"type": "line", "interpolate": "monotone", "color": "#FF0000", "strokeWidth": 1.5}, "encoding": {}},
    {"data": {"values": [{"x": 275.2, "y": 88.7, "t": "Cu(BTC)-rGO"}]}, "mark": {"type": "text", "align": "left", "baseline": "alphabetic", "fontSize": 14, "color": "#111"}, "encoding": {"text": {"field": "t"}}},
    {"data": {"values": [{"x": 282.96, "y": 84.8, "t": "C-C/C=C"}, {"x": 288.5, "y": 39.9, "t": "O=C-O"}, {"x": 284.7, "y": 20.5, "t": "C-O"}]}, "mark": {"type": "text", "align": "left", "baseline": "alphabetic", "fontSize": 14, "color": "#111"}, "encoding": {"text": {"field": "t"}}},
    {"data": {"values": [{"x": 294.6, "y": 85.8, "t": "c"}]}, "mark": {"type": "text", "align": "right", "baseline": "alphabetic", "fontSize": 34, "fontWeight": "bold", "color": "#000"}, "encoding": {"text": {"field": "t"}}}
   ]},
  {"width": 250, "height": 185, "data": {"name": "d"},
   "encoding": {
    "x": {"field": "x", "type": "quantitative", "scale": {"domain": [280, 294], "nice": false, "zero": false}, "axis": {"title": "Binding Energy/eV", "values": [280,282.5,285,287.5,290,292.5], "labelExpr": "datum.value % 5 === 0 ? datum.label : ''"}},
    "y": {"field": "y", "type": "quantitative", "scale": {"domain": [0, 100], "nice": false}, "axis": {"title": "Counts/s"}}},
   "layer": [
    {"transform": [{"filter": "datum.s !== 'raw' && datum.s !== 'fit'"}], "mark": {"type": "line", "interpolate": "monotone", "strokeWidth": 1.2}, "encoding": {"color": {"field": "s", "type": "nominal", "legend": null, "scale": {"domain": ["bg","co","cc","oco"], "range": ["#3344CC","#D04BD8","#1FA07A","#6F8C1F"]}}}},
    {"transform": [{"filter": "datum.s === 'raw'"}], "mark": {"type": "line", "color": "#000000", "strokeWidth": 1.1}, "encoding": {}},
    {"transform": [{"filter": "datum.s === 'fit'"}], "mark": {"type": "line", "interpolate": "monotone", "color": "#FF0000", "strokeWidth": 1.5}, "encoding": {}},
    {"data": {"values": [{"x": 280.41, "y": 89.2, "t": "Cu(BTC)"}]}, "mark": {"type": "text", "align": "left", "baseline": "alphabetic", "fontSize": 14.5, "color": "#111"}, "encoding": {"text": {"field": "t"}}},
    {"data": {"values": [{"x": 285.1, "y": 89.2, "t": "C-C/C=C"}, {"x": 287.06, "y": 36.0, "t": "O=C-O"}, {"x": 285.34, "y": 29.7, "t": "C-O"}]}, "mark": {"type": "text", "align": "left", "baseline": "alphabetic", "fontSize": 15, "color": "#111"}, "encoding": {"text": {"field": "t"}}},
    {"data": {"values": [{"x": 293.8, "y": 82, "t": "d"}]}, "mark": {"type": "text", "align": "right", "baseline": "alphabetic", "fontSize": 34, "color": "#000"}, "encoding": {"text": {"field": "t"}}}
   ]}
  ], "spacing": 86, "bounds": "flush", "center": true, "resolve": {"scale": {"color": "independent"}}},
 {"hconcat": [
  {"width": 234, "height": 176, "data": {"name": "e"},
   "encoding": {
    "x": {"field": "x", "type": "quantitative", "scale": {"domain": [523.7, 539.1], "nice": false, "zero": false}, "axis": {"title": "Binding Energy/eV", "values": [525,527.5,530,532.5,535,537.5], "labelExpr": "datum.value % 5 === 0 ? datum.label : ''"}},
    "y": {"field": "y", "type": "quantitative", "scale": {"domain": [0, 100], "nice": false}, "axis": {"title": "Counts/s"}}},
   "layer": [
    {"transform": [{"filter": "datum.s !== 'raw' && datum.s !== 'fit'"}], "mark": {"type": "line", "interpolate": "monotone", "strokeWidth": 1.2}, "encoding": {"color": {"field": "s", "type": "nominal", "legend": null, "scale": {"domain": ["bg","o1s"], "range": ["#3344CC","#1FA07A"]}}}},
    {"transform": [{"filter": "datum.s === 'raw'"}], "mark": {"type": "line", "color": "#000000", "strokeWidth": 1.1}, "encoding": {}},
    {"data": {"values": [{"x": 523.85, "y": 91.5, "t": "Cu(BTC)-rGO"}, {"x": 531.07, "y": 86.7, "t": "O1s"}]}, "mark": {"type": "text", "align": "left", "baseline": "alphabetic", "fontSize": 14, "color": "#111"}, "encoding": {"text": {"field": "t"}}},
    {"data": {"values": [{"x": 538.73, "y": 82, "t": "e"}]}, "mark": {"type": "text", "align": "right", "baseline": "alphabetic", "fontSize": 32, "color": "#000"}, "encoding": {"text": {"field": "t"}}}
   ]},
  {"width": 235, "height": 175, "data": {"name": "f"},
   "encoding": {
    "x": {"field": "x", "type": "quantitative", "scale": {"domain": [527, 538], "nice": false, "zero": false}, "axis": {"title": "Binding Energy/eV", "values": [527.5,530,532.5,535,537.5], "labelExpr": "datum.value % 5 === 0 ? datum.label : ''"}},
    "y": {"field": "y", "type": "quantitative", "scale": {"domain": [0, 100], "nice": false}, "axis": {"title": "Counts/s", "titlePadding": 1}}},
   "layer": [
    {"transform": [{"filter": "datum.s !== 'raw' && datum.s !== 'fit'"}], "mark": {"type": "line", "interpolate": "monotone", "strokeWidth": 1.2}, "encoding": {"color": {"field": "s", "type": "nominal", "legend": null, "scale": {"domain": ["bg","o1s"], "range": ["#3344CC","#1FA07A"]}}}},
    {"transform": [{"filter": "datum.s === 'raw'"}], "mark": {"type": "line", "color": "#000000", "strokeWidth": 1.1}, "encoding": {}},
    {"data": {"values": [{"x": 527.47, "y": 90.1, "t": "Cu(BTC)"}]}, "mark": {"type": "text", "align": "left", "baseline": "alphabetic", "fontSize": 14, "color": "#111"}, "encoding": {"text": {"field": "t"}}},
    {"data": {"values": [{"x": 531.68, "y": 87.2, "t": "O1s"}]}, "mark": {"type": "text", "align": "left", "baseline": "alphabetic", "fontSize": 16, "color": "#111"}, "encoding": {"text": {"field": "t"}}},
    {"data": {"values": [{"x": 537.71, "y": 81.5, "t": "f"}]}, "mark": {"type": "text", "align": "right", "baseline": "alphabetic", "fontSize": 36, "color": "#000"}, "encoding": {"text": {"field": "t"}}}
   ]}
  ], "spacing": 110, "bounds": "flush", "resolve": {"scale": {"color": "independent"}}}
 ], "spacing": 49, "resolve": {"scale": {"color": "independent"}}}
]
}
